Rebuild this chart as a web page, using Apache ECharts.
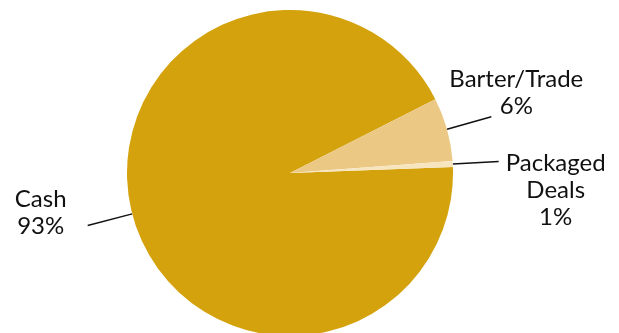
<!DOCTYPE html>
<html>
<head>
<meta charset="utf-8">
<script src="https://cdn.jsdelivr.net/npm/echarts@6/dist/echarts.min.js"></script>
<style>
  html, body { margin: 0; padding: 0; background: #fff; }
  #chart { width: 619px; height: 333px; }
</style>
</head>
<body>
<div id="chart"></div>
<script>
// payment type shares (percent)
const categories = ['Cash', 'Barter/Trade', 'Packaged Deals'];
const labelNames = ['Cash', 'Barter/Trade', 'Packaged\nDeals'];
const shares = [93.1, 6.3, 0.6];
const colors = ['#D4A20C', '#EBC985', '#F7E5BF'];

// label block centre, relative to the end of its leader line
const labelOffsets = [[-47, -13], [25, -24], [57, 29]];

const chart = echarts.init(document.getElementById('chart'), null, { renderer: 'canvas' });

chart.setOption({
  backgroundColor: '#ffffff',
  animation: false,
  series: [
    {
      type: 'pie',
      center: [290, 173],
      radius: 163,
      startAngle: 2.1,
      clockwise: true,
      avoidLabelOverlap: false,
      data: categories.map((name, i) => ({
        name: name,
        value: shares[i],
        itemStyle: { color: colors[i] },
      })),
      label: {
        show: true,
        position: 'outside',
        fontFamily: 'Lato',
        fontSize: 24,
        lineHeight: 27,
        color: '#111',
        formatter: (p) => labelNames[p.dataIndex] + '\n' + Math.round(p.value) + '%',
      },
      labelLine: {
        show: true,
        length: 46,
        length2: 0,
        lineStyle: { color: '#111', width: 1.5 },
      },
      labelLayout: (p) => {
        const pts = p.labelLinePoints;
        if (!pts) return {};
        const end = pts[pts.length - 1];
        const off = labelOffsets[p.dataIndex];
        return {
          x: end[0] + off[0],
          y: end[1] + off[1],
          align: 'center',
          verticalAlign: 'middle',
          labelLinePoints: pts,
        };
      },
      emphasis: { disabled: true },
    },
  ],
});
</script>
</body>
</html>
